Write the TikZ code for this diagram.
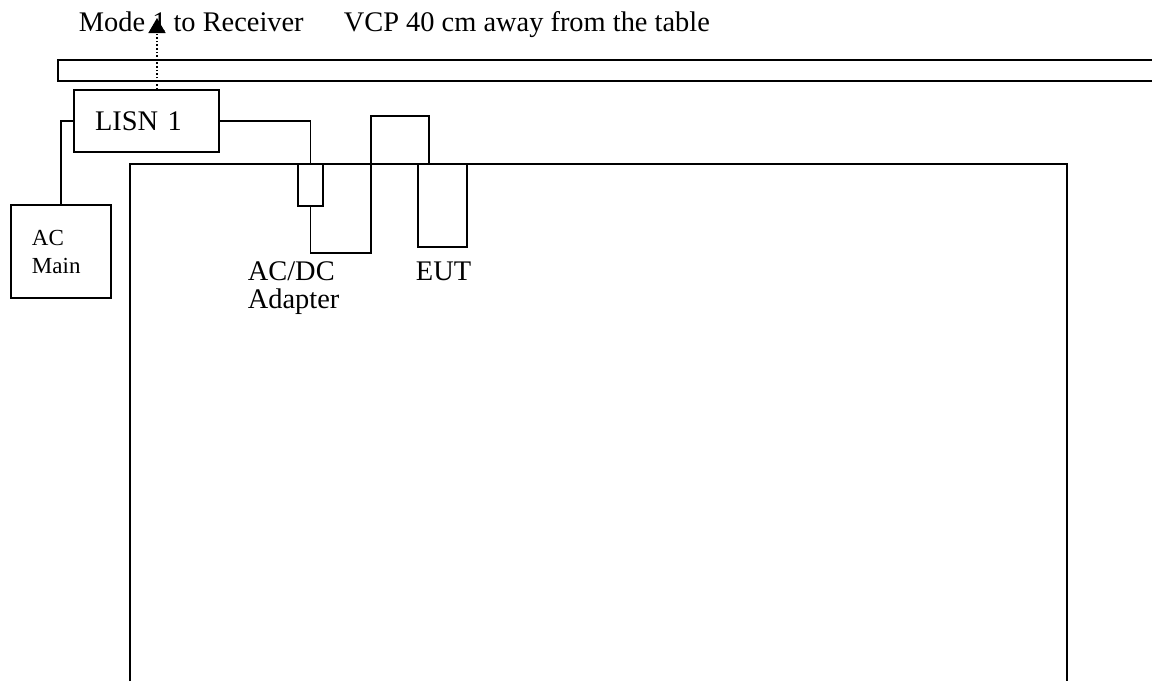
\documentclass[tikz,border=0pt]{standalone}
\usepackage{fontspec}
\setmainfont{Liberation Serif}
\usetikzlibrary{arrows.meta,positioning}

\begin{document}
\begin{tikzpicture}[x=0.5pt,y=-0.5pt,line width=0.9pt,
    font=\fontsize{14.2}{14}\selectfont,
    unit/.style={draw,rectangle,inner sep=0pt},
    labelled/.style={draw,rectangle,align=left,inner xsep=10.5pt,inner ysep=0pt}]
  \useasboundingbox (0,0) rectangle (1152,681);
  % vertical coupling plane, runs off to the right
  \draw (1152,60) -- (58,60) -- (58,81) -- (1152,81);
  % table top
  \draw (130,681) -- (130,164) -- (1067,164) -- (1067,681);

  \node[labelled,text width=51.5pt,minimum height=31pt] (lisn) at (146.5,121) {LISN 1};
  \node[labelled,text width=29pt,minimum height=46.5pt,font=\fontsize{11.5}{14}\selectfont] (acmain) at (61,251.5) {AC\\Main};
  \node[unit,minimum width=12.5pt,minimum height=21pt] (adapter) at (310.5,185) {};
  \node[unit,minimum width=24.5pt,minimum height=41.5pt] (eut) at (442.5,205.5) {};

  \node[anchor=base west,inner sep=0pt] (modetxt) at (78,31) {Mode 1 to Receiver};
  \node[anchor=base west,inner sep=0pt] (vcptxt) at (343,31) {VCP 40 cm away from the table};
  \node[anchor=north west,inner sep=0pt,align=left] (adaptertxt) at (247,261) {AC/DC\\Adapter};
  \node[anchor=base west,inner sep=0pt] (euttxt) at (415,280) {EUT};

  % power wiring
  \draw (lisn.west) -| (acmain.north);
  \draw (lisn.east) -| (adapter.north);
  \draw (adapter.south) |- (371,253) -- (371,116) -| ([xshift=6pt]eut.north west);

  % cable to receiver
  \coordinate (rx) at (157,18);
  \draw[densely dotted,line width=0.8pt,-{Triangle[length=7.5pt,width=8.5pt]}] ([xshift=5.25pt]lisn.north) -- (rx);
\end{tikzpicture}
\end{document}
